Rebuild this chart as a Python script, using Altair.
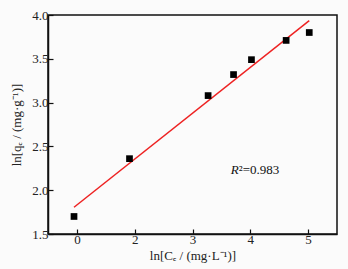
import altair as alt
import pandas as pd

# data (x in axis units, tick at 1 is labelled "0")
ln_ce = [0.95, 1.91, 3.27, 3.71, 4.02, 4.62, 5.02]
ln_qe = [1.70, 2.36, 3.08, 3.32, 3.49, 3.71, 3.80]
x_ticks = [1, 1.5, 2, 2.5, 3, 3.5, 4, 4.5, 5, 5.5]
y_ticks = [1.5, 1.75, 2.0, 2.25, 2.5, 2.75, 3.0, 3.25, 3.5, 3.75, 4.0]
r2_text = "²=0.983"

df = pd.DataFrame({"x": ln_ce, "y": ln_qe})
ann = pd.DataFrame({"x": [3.80], "y": [2.23]})

FONT = "Liberation Serif"

xscale = alt.Scale(domain=[0.5, 5.5], nice=False, zero=False)
yscale = alt.Scale(domain=[1.5, 4.0], nice=False, zero=False)

xaxis = alt.Axis(
    title="ln[Cₑ / (mg·L⁻¹)]",
    values=x_ticks,
    labelExpr="datum.value % 1 !== 0 ? '' : (datum.value === 1 ? '0' : format(datum.value, 'd'))",
    tickSize={"condition": {"test": "datum.value % 1 === 0", "value": -5}, "value": -3},
    labelPadding=4,
    titlePadding=3,
    grid=False,
)
yaxis = alt.Axis(
    title="ln[qₑ / (mg·g⁻¹)]",
    values=y_ticks,
    labelExpr="datum.value % 0.5 !== 0 ? '' : format(datum.value, '.1f')",
    tickSize={"condition": {"test": "datum.value % 0.5 === 0", "value": -5}, "value": -3},
    labelPadding=5,
    titlePadding=8,
    grid=False,
)

points = alt.Chart(df).mark_point(shape="square", filled=True, color="black", size=45, opacity=1).encode(
    x=alt.X("x:Q", scale=xscale, axis=xaxis),
    y=alt.Y("y:Q", scale=yscale, axis=yaxis),
)

fit = alt.Chart(df).transform_regression("x", "y").mark_line(color="#ee2222", strokeWidth=1.5).encode(
    x=alt.X("x:Q", scale=xscale),
    y=alt.Y("y:Q", scale=yscale),
)

r_txt = alt.Chart(ann).mark_text(text="R", font=FONT, fontSize=13, fontStyle="italic", align="right", baseline="middle", color="#111").encode(
    x="x:Q", y="y:Q"
)
r2_txt = alt.Chart(ann).mark_text(text=r2_text, font=FONT, fontSize=13, align="left", baseline="middle", color="#111").encode(
    x="x:Q", y="y:Q"
)

chart = alt.layer(fit, points, r_txt, r2_txt).properties(
    width=289, height=219,
    background="#fbfbfb",
    padding={"left": 48, "top": 15, "right": 11, "bottom": 35},
    autosize=alt.AutoSizeParams(type="none"),
).configure_view(
    stroke="#111", strokeWidth=1.5
).configure_axis(
    domainColor="#111", domainWidth=1.5, tickColor="#111", tickWidth=1.2,
    labelFont=FONT, labelFontSize=13, labelColor="#222",
    titleFont=FONT, titleFontSize=13, titleFontWeight="normal", titleColor="#222",
)

chart.save("out.html", embed_options={"renderer": "svg", "actions": False})
